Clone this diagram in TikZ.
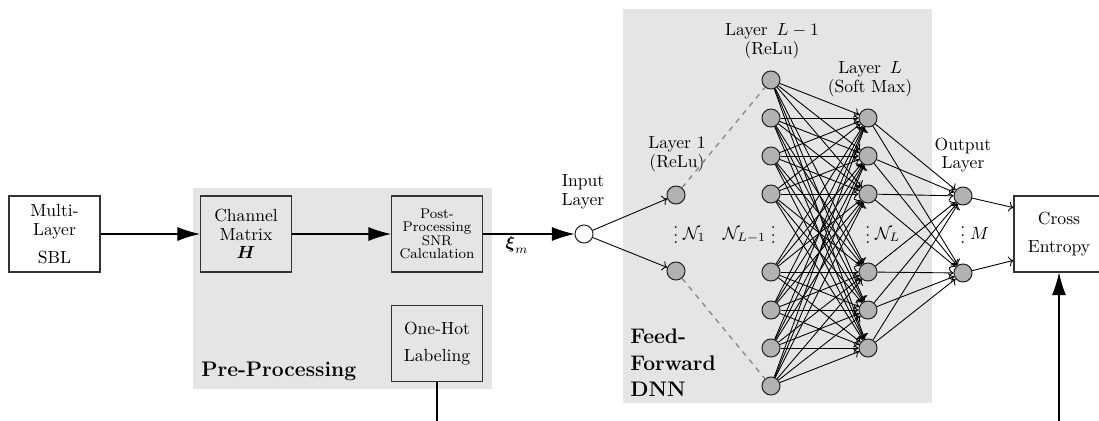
\documentclass[tikz,border=0pt]{standalone}
\usepackage{amsmath,amssymb}
\usepackage{tikz}
\usetikzlibrary{arrows.meta,positioning,calc}

\newcommand{\lowdots}{\raisebox{-2.3pt}{$\vdots$}}

\tikzset{
  block/.style={draw=black!80,semithick,minimum width=18.2mm,minimum height=15.2mm,
    align=center,inner sep=1pt,font=\fontsize{10}{10.5}\selectfont},
  neuron/.style={circle,draw=black!85,semithick,fill=black!30,minimum size=3.6mm,inner sep=0pt},
  lbl/.style={align=center,inner sep=0pt,font=\fontsize{10}{10.5}\selectfont},
  bigarrow/.style={-{Latex[length=4.5mm,width=2.8mm]},semithick},
  conn/.style={->,line width=0.5pt},
  bgbox/.style={fill=black!10,draw=none},
}

\begin{document}
\begin{tikzpicture}[x=0.2mm,y=-0.2mm]
  \useasboundingbox (0,0) rectangle (1099,420);
  \clip (0,0) rectangle (1099,420);
  \fill[bgbox] (193,188) rectangle (492,389); % pre-processing area
  \fill[bgbox] (623,9) rectangle (932,403);   % DNN area

  \node[block] (sbl) at (54.5,234) {Multi-\\Layer\\[5.5pt]SBL};
  \node[block] (chan) at (246,234) {Channel\\Matrix\\$\boldsymbol{H}$};
  \node[block,font=\fontsize{8}{7.6}\selectfont] (post) at (437,234) {Post-\\Processing\\SNR\\Calculation};
  \node[block] (onehot) at (437,343.5) {One-Hot\\[5pt]Labeling};
  \node[block,minimum width=18mm] (cross) at (1059,234) {Cross\\[5pt]Entropy};
  \node[anchor=west,inner sep=0pt,font=\large\bfseries] (pplbl) at (201,371) {Pre-Processing};
  \node[anchor=west,align=left,inner sep=0pt,font=\fontsize{12}{15}\bfseries\selectfont] (dnnlbl) at (630,363) {Feed-\\Forward\\DNN};

  \node[neuron,fill=white] (in) at (584,234) {};
  \node[lbl] (inlbl) at (583,192) {Input\\Layer};
  \node[lbl] (xi) at (517,245) {$\boldsymbol{\xi}_m$};

  \foreach \y [count=\i] in {195,271} \node[neuron] (a\i) at (676,\y) {};                          % layer 1
  \foreach \y [count=\i] in {80,118,156,194,272,310,348,386} \node[neuron] (h\i) at (771,\y) {};  % layer L-1
  \foreach \y [count=\i] in {118,156,194,272,310,348} \node[neuron] (s\i) at (868,\y) {};         % layer L
  \foreach \y [count=\i] in {196,273} \node[neuron] (o\i) at (963,\y) {};                          % output layer

  \node[lbl] (albl) at (677,154) {Layer 1\\(ReLu)};
  \node[lbl] (hlbl) at (772,41) {Layer\ \,$L-1$\\(ReLu)};
  \node[lbl] (slbl) at (870,79) {Layer\ \,$L$\\(Soft Max)};
  \node[lbl] (olbl) at (963,155) {Output\\Layer};

  \node[anchor=base west,inner sep=0pt] (na) at (673,239) {\lowdots$\;\mathcal{N}_1$};
  \node[anchor=base east,inner sep=0pt] (nh) at (776,239) {$\mathcal{N}_{L-1}\;$\lowdots};
  \node[anchor=base west,inner sep=0pt] (ns) at (865,239) {\lowdots$\;\mathcal{N}_L$};
  \node[anchor=base west,inner sep=0pt] (no) at (960,239) {\lowdots$\;M$};

  \draw[bigarrow] (sbl) -- (chan);
  \draw[bigarrow] (chan) -- (post);
  \draw[bigarrow] (post) -- (in);
  \coordinate (fb) at (750,440);
  \draw[bigarrow] (onehot.south) |- (fb) -| (cross.south);

  \foreach \k in {1,2} \draw[conn] (in) -- (a\k);
  \draw[dashed,black!45,thick] (a1) -- (h1);
  \draw[dashed,black!45,thick] (a2) -- (h8);
  \foreach \i in {1,...,8} \foreach \j in {1,...,6} \draw[conn] (h\i) -- (s\j);
  \foreach \j in {1,...,6} \foreach \k in {1,2} \draw[conn] (s\j) -- (o\k);
  \draw[conn] (o1) -- ([yshift=15pt]cross.west);
  \draw[conn] (o2) -- ([yshift=-15pt]cross.west);
\end{tikzpicture}
\end{document}
